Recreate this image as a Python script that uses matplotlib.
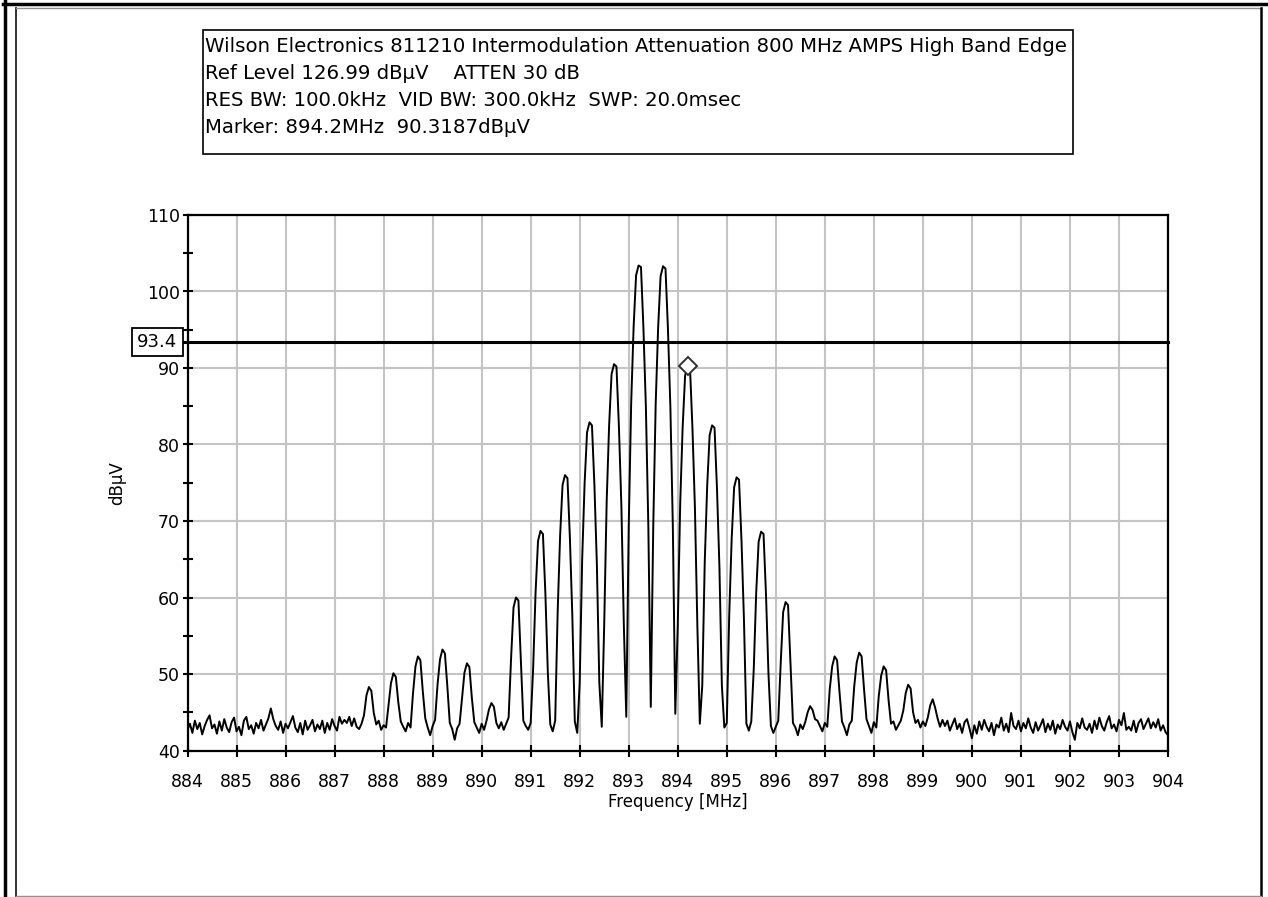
import numpy as np
import matplotlib.pyplot as plt
from matplotlib.lines import Line2D
from matplotlib.patches import Rectangle
import matplotlib.transforms as mtransforms

plt.rcParams['font.family'] = ['DejaVu Sans']

# sweep settings (401 point trace)
start_mhz = 884.0
stop_mhz = 904.0

# noise floor below the first product, 884.00 - 887.45 MHz
floor_left = [
    42.7, 43.5, 42.3, 43.9, 42.8, 43.6, 42.1, 43.2, 44.0, 44.6,
    42.9, 43.4, 42.2, 43.8, 42.6, 44.1, 43.0, 42.4, 43.7, 44.3,
    42.5, 43.1, 42.0, 43.9, 44.4, 42.8, 43.3, 42.2, 43.6, 42.9,
    44.0, 42.6, 43.4, 44.2, 45.5, 44.1, 43.2, 42.7, 43.8, 42.3,
    43.5, 42.9, 43.7, 44.5, 43.0, 42.4, 43.6, 42.1, 43.9, 42.7,
    43.3, 44.0, 42.5, 43.4, 42.8, 43.9, 42.3, 43.6, 42.7, 44.1,
    43.2, 42.6, 44.4, 43.5, 44.0, 43.6, 44.4, 43.2, 44.2, 43.1,
]

# the two carriers and their IM products, 10 samples per 0.5 MHz slot
tone_887_7 = [42.8, 43.5, 44.6, 47.2, 48.3, 47.8, 44.9, 43.4, 43.9, 42.7]
tone_888_2 = [43.3, 43.0, 45.9, 48.8, 50.1, 49.6, 46.3, 43.8, 43.1, 42.5]
tone_888_7 = [43.6, 43.0, 47.5, 51.0, 52.3, 51.8, 47.7, 44.2, 43.0, 42.0]
tone_889_2 = [43.2, 44.0, 48.6, 51.9, 53.2, 52.7, 48.4, 43.6, 42.8, 41.4]
tone_889_7 = [42.9, 43.5, 46.8, 50.2, 51.4, 50.9, 46.9, 43.7, 43.0, 42.3]
tone_890_2 = [43.5, 42.7, 43.9, 45.4, 46.2, 45.7, 43.6, 42.9, 43.7, 42.7]
tone_890_7 = [43.5, 44.3, 52.0, 58.7, 60.0, 59.6, 51.8, 43.9, 43.2, 42.7]
tone_891_2 = [43.6, 50.7, 60.7, 67.4, 68.7, 68.3, 60.5, 50.2, 43.4, 42.5]
tone_891_7 = [43.9, 58.0, 68.0, 74.7, 76.0, 75.6, 67.8, 57.5, 43.8, 42.3]
tone_892_2 = [48.9, 64.9, 74.9, 81.6, 82.9, 82.5, 74.7, 64.4, 48.9, 43.1]
tone_892_7 = [56.5, 72.5, 82.5, 89.2, 90.5, 90.2, 82.3, 72.0, 56.5, 44.4]
tone_893_2 = [69.3, 85.4, 95.4, 102.1, 103.4, 103.2, 95.2, 84.9, 69.3, 45.7]
tone_893_7 = [69.2, 85.3, 95.3, 102.0, 103.3, 103.0, 95.1, 84.8, 69.2, 44.8]
tone_894_2 = [56.3, 72.3, 82.3, 89.0, 90.3187, 90.0, 82.1, 71.8, 56.3, 43.5]
tone_894_7 = [48.5, 64.5, 74.5, 81.2, 82.5, 82.2, 74.3, 64.0, 48.5, 43.0]
tone_895_2 = [43.6, 57.7, 67.7, 74.4, 75.7, 75.4, 67.5, 57.2, 43.5, 42.6]
tone_895_7 = [43.8, 50.6, 60.6, 67.3, 68.6, 68.3, 60.4, 50.1, 43.2, 42.3]
tone_896_2 = [43.1, 43.9, 51.4, 58.1, 59.4, 59.0, 51.2, 43.6, 43.0, 42.0]
tone_896_7 = [43.4, 42.8, 43.7, 45.0, 45.8, 45.3, 44.1, 43.9, 43.2, 42.5]
tone_897_2 = [43.6, 43.1, 48.0, 51.0, 52.3, 51.8, 47.6, 43.8, 43.0, 42.0]
tone_897_7 = [43.4, 43.9, 48.4, 51.5, 52.8, 52.3, 48.0, 44.1, 43.2, 42.3]
tone_898_2 = [43.7, 43.0, 47.1, 49.8, 51.0, 50.5, 46.6, 43.5, 43.8, 42.7]
tone_898_7 = [43.3, 43.9, 45.2, 47.5, 48.6, 48.1, 45.0, 43.6, 44.0, 43.0]
tone_899_2 = [43.8, 43.2, 44.3, 45.9, 46.7, 45.6, 44.2, 43.1, 44.0, 43.2]

# noise floor above the products, 899.50 - 904.00 MHz
floor_right = [
    43.9, 42.6, 43.4, 44.2, 42.8, 43.5, 42.3, 43.7, 44.1, 42.9,
    41.6, 43.3, 42.2, 43.8, 42.7, 44.0, 43.1, 42.5, 43.6, 42.0,
    43.4, 43.0, 44.3, 42.6, 43.5, 42.4, 44.9, 43.2, 42.8, 43.9,
    42.5, 43.6, 42.9, 44.2, 43.0, 42.3, 43.7, 42.6, 43.3, 44.1,
    42.4, 43.5, 42.7, 43.9, 42.2, 43.4, 42.8, 44.0, 43.1, 42.6,
    43.8, 42.4, 41.4, 43.6, 42.9, 44.2, 43.0, 42.7, 43.5, 42.3,
    43.9, 42.8, 44.3, 43.2, 42.6, 43.7, 44.5, 42.9, 43.4, 42.5,
    44.0, 43.3, 44.9, 42.7, 43.1, 42.6, 43.9, 42.4, 43.6, 44.1,
    42.8, 43.5, 44.2, 42.9, 43.7, 43.0, 44.1, 42.6, 43.3, 42.4, 42.0,
]

tones = [tone_887_7, tone_888_2, tone_888_7, tone_889_2, tone_889_7, tone_890_2,
         tone_890_7, tone_891_2, tone_891_7, tone_892_2, tone_892_7, tone_893_2,
         tone_893_7, tone_894_2, tone_894_7, tone_895_2, tone_895_7, tone_896_2,
         tone_896_7, tone_897_2, tone_897_7, tone_898_2, tone_898_7, tone_899_2]

ref_level = 93.4
marker_mhz = 894.2
marker_dbuv = 90.3187

info_lines = [
    'Wilson Electronics 811210 Intermodulation Attenuation 800 MHz AMPS High Band Edge',
    'Ref Level 126.99 dBµV    ATTEN 30 dB',
    'RES BW: 100.0kHz  VID BW: 300.0kHz  SWP: 20.0msec',
    'Marker: 894.2MHz  90.3187dBµV',
]

level = np.array(floor_left + [v for t in tones for v in t] + floor_right)
freq = np.linspace(start_mhz, stop_mhz, len(level))

W, H = 1268, 897


def fx(px):
    return px / W


def fy(py):
    return 1 - py / H


fig = plt.figure(figsize=(W / 100, H / 100), dpi=100)

# window frame
fig.add_artist(Line2D([fx(4.5), fx(4.5)], [0, 1], color='black', lw=2.5))
fig.add_artist(Line2D([fx(3), 1], [fy(4.5), fy(4.5)], color='black', lw=2.5))
fig.add_artist(Line2D([fx(16), fx(16)], [fy(8), fy(896)], color='#202020', lw=1.3))
fig.add_artist(Line2D([fx(16), fx(1261)], [fy(8), fy(8)], color='#909090', lw=1))
fig.add_artist(Line2D([fx(1261), fx(1261)], [fy(8), fy(896)], color='black', lw=1.8))
fig.add_artist(Line2D([fx(16), fx(1261)], [fy(896), fy(896)], color='#909090', lw=1))

# header box
fig.add_artist(Rectangle((fx(203), fy(154.5)), fx(1073) - fx(203), fy(30.5) - fy(154.5),
                         transform=fig.transFigure, fill=False, ec='black', lw=1.2))
for k, line in enumerate(info_lines):
    fig.text(fx(205), fy(47 + 26.7 * k), line, fontsize=14.2, va='center', ha='left')

ax = fig.add_axes([fx(187.5), fy(750.5), fx(1168) - fx(187.5), fy(215) - fy(750.5)])
ax.set_xlim(start_mhz, stop_mhz)
ax.set_ylim(40, 110)
ax.set_xticks(np.arange(884, 905, 1))
ax.set_yticks(np.arange(40, 111, 10))
ax.set_yticks(np.arange(45, 110, 10), minor=True)
ax.set_axisbelow(True)
ax.grid(True, which='major', color='#c4c4c4', lw=1.5)
for s in ax.spines.values():
    s.set_linewidth(1.6)
ax.tick_params(axis='x', direction='inout', length=8, width=1.5, labelsize=12.5, pad=12)
ax.tick_params(axis='y', which='both', direction='inout', length=7, width=1.5, labelsize=12.5, pad=2)

ax.plot(freq, level, color='black', lw=1.4)

# reference level line with its tag
ax.axhline(ref_level, xmin=-0.007, xmax=1, color='black', lw=2.2, clip_on=False, zorder=4)
tag = mtransforms.blended_transform_factory(ax.transAxes, ax.transData)
ax.text(-0.0105, ref_level, f'{ref_level}', transform=tag, ha='right', va='center', fontsize=13,
        bbox=dict(boxstyle='square,pad=0.3', fc='white', ec='black', lw=1.3), zorder=5)

# marker
ax.plot(marker_mhz, marker_dbuv, marker='D', ms=9, mfc='white', mec='#303030', mew=1.4, zorder=5)

fig.text(fx(677.5), fy(802), 'Frequency [MHz]', fontsize=12, ha='center', va='center')
fig.text(fx(117), fy(483), 'dBµV', fontsize=12, ha='center', va='center', rotation=90)

plt.savefig('out.png', dpi=100)
